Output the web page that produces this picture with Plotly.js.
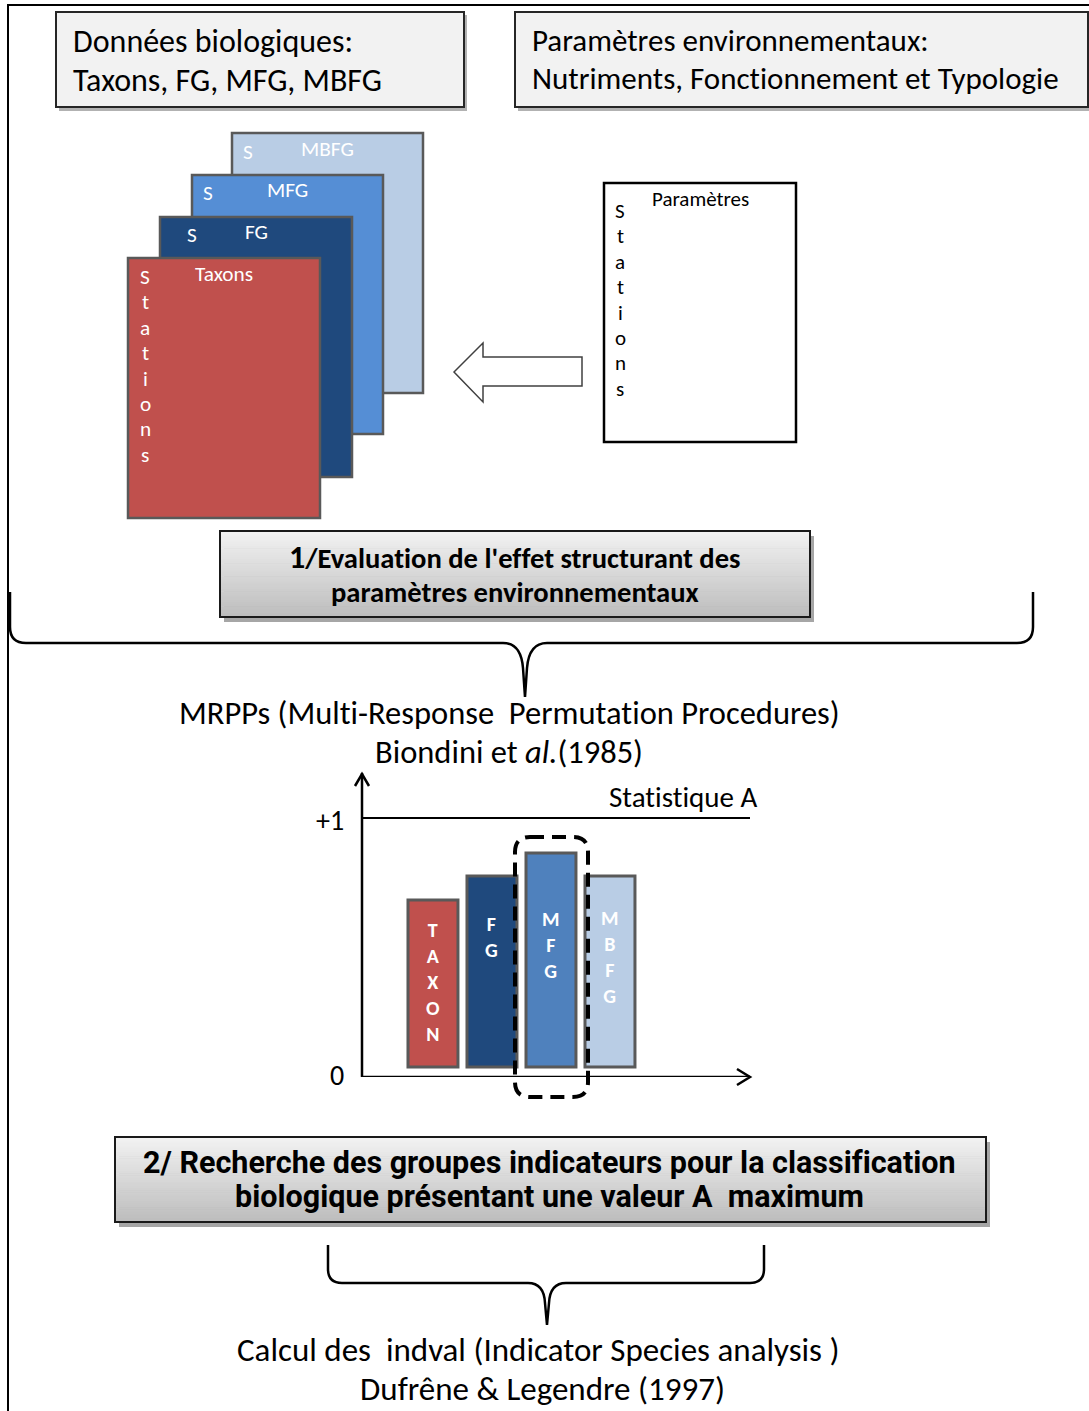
<!DOCTYPE html>
<html>
<head>
<meta charset="utf-8">
<script src="https://cdn.plot.ly/plotly-3.0.1.min.js"></script>
<style>html,body{margin:0;padding:0;background:#fff;}#chart{width:1089px;height:1411px;}
svg text{font-variant-ligatures:none !important;font-feature-settings:"liga" 0,"clig" 0 !important;}</style>
</head>
<body>
<div id="chart"></div>
<script>
// ---------- DATA ----------
const categories = ['TAXON', 'FG', 'MFG', 'MBFG'];
const statA = [0.683, 0.776, 0.865, 0.776];     // Statistique A (top of each bar)
const barBase = 0.039;                          // bars float slightly above 0
const barLabels = ['T<br>A<br>X<br>O<br>N', 'F<br>G', 'M<br>F<br>G', 'M<br>B<br>F<br>G'];
const cardNames = ['MBFG', 'MFG', 'FG', 'Taxons'];
const stationLetters = ['S', 't', 'a', 't', 'i', 'o', 'n', 's'];

// ---------- STYLES / LAYOUT HELPERS ----------
const barColors = ['#c0504d', '#1f497d', '#4f81bd', '#b9cde5'];
const cardColors = ['#b9cde5', '#558ed5', '#1f497d', '#c0504d'];
const labelYpix = [982, 937, 945, 957];
const FONT = 'Carlito, "Open Sans", Lato, sans-serif';
const NARROW = '"Liberation Sans Narrow", Roboto, "Liberation Sans", Arial, sans-serif';

const shapes = [];
const ann = [];
function rect(x0, y0, x1, y1, fill, lc, lw, extra) {
  shapes.push(Object.assign({type: 'rect', xref: 'x', yref: 'y', x0, y0, x1, y1,
    fillcolor: fill, line: {color: lc, width: lw}}, extra || {}));
}
function path(p, lc, lw, fill, extra) {
  shapes.push(Object.assign({type: 'path', xref: 'x', yref: 'y', path: p,
    fillcolor: fill || 'rgba(0,0,0,0)', line: {color: lc, width: lw}}, extra || {}));
}
function txt(x, y, text, size, color, opts) {
  ann.push(Object.assign({xref: 'x', yref: 'y', x, y, text, showarrow: false,
    font: {family: FONT, size, color: color || '#000'}, xanchor: 'center', yanchor: 'middle'}, opts || {}));
}
function hex(c) { return [1, 3, 5].map(i => parseInt(c.substr(i, 2), 16)); }
function gradBox(x0, y0, x1, y1, cTop, cBot) {
  rect(x0 + 4, y0 + 5, x1 + 4, y1 + 5, 'rgba(0,0,0,0.35)', 'rgba(0,0,0,0)', 0);
  const a = hex(cTop), b = hex(cBot), n = 40, h = (y1 - y0) / n;
  for (let i = 0; i < n; i++) {
    const t = i / (n - 1);
    const c = 'rgb(' + a.map((v, k) => Math.round(v + (b[k] - v) * t)).join(',') + ')';
    rect(x0, y0 + i * h, x1, y0 + (i + 1) * h + 0.6, c, 'rgba(0,0,0,0)', 0);
  }
  rect(x0, y0, x1, y1, 'rgba(0,0,0,0)', '#1a1a1a', 2);
}

// page border
path('M8,1411 L8,5 L1089,5', '#000', 2);

// top boxes
rect(59, 15, 467, 111, 'rgba(0,0,0,0.3)', 'rgba(0,0,0,0)', 0);
rect(56, 12, 464, 107, '#f2f2f2', '#262626', 2);
txt(71, 41, 'Données biologiques:', 32, '#000', {xanchor: 'left'});
txt(71, 80, 'Taxons, FG, MFG, MBFG', 32, '#000', {xanchor: 'left'});
rect(518, 15, 1091, 111, 'rgba(0,0,0,0.3)', 'rgba(0,0,0,0)', 0);
rect(515, 12, 1088, 107, '#f2f2f2', '#262626', 2);
txt(530, 40, 'Paramètres environnementaux:', 31, '#000', {xanchor: 'left'});
txt(530, 78, 'Nutriments, Fonctionnement et Typologie', 31, '#000', {xanchor: 'left'});

// stacked cards
const cardBoxes = [[232, 133, 423, 393], [192, 175, 383, 434], [160, 217, 352, 477], [128, 258, 320, 518]];
const cardS = [[248, 152], [208, 193], [192, 235]];
const cardTitle = [[327, 149], [287, 190], [256, 232], [224, 274]];
cardBoxes.forEach((b, i) => {
  rect(b[0], b[1], b[2], b[3], cardColors[i], '#595959', 2.5);
});
cardNames.forEach((nm, i) => {
  txt(cardTitle[i][0], cardTitle[i][1], nm, 21.3, '#fff');
  if (i < 3) txt(cardS[i][0], cardS[i][1], 'S', 21.3, '#fff');
});
stationLetters.forEach((l, i) => txt(145, 277 + 25.4 * i, l, 21.3, '#fff'));

// arrow
path('M454,372 L483,343 L483,357 L582,357 L582,386 L483,386 L483,402 Z', '#404040', 1.5, '#fff');

// parameters box
rect(604, 183, 796, 442, '#fff', '#000', 2.5);
txt(700, 199, 'Paramètres', 21, '#000');
stationLetters.forEach((l, i) => txt(620, 211 + 25.4 * i, l, 21, '#000'));

// step 1 box
gradBox(220, 531, 810, 617, '#f2f2f2', '#bdbdbd');
txt(515, 557, '<b><span style="font-size:32px">1</span>/Evaluation de l\'effet structurant des</b>', 28.6, '#000');
txt(515, 592, '<b>paramètres environnementaux</b>', 28.6, '#000');

// brace 1
path('M10,592 L10,627 Q10,643 26,643 L503,643 Q521,643 523,668 L525,697 M525,697 L527,668 Q529,643 547,643 L1017,643 Q1033,643 1033,627 L1033,592', '#000', 2.5);

txt(509, 713, 'MRPPs (Multi-Response&nbsp; Permutation Procedures)', 32.5, '#000');
txt(509, 752, 'Biondini et <i>al.</i>(1985)', 32.5, '#000');

// mini chart axes
shapes.push({type: 'line', xref: 'x2 domain', yref: 'y2 domain', x0: 0, x1: 0, y0: 0, y1: 1, line: {color: '#000', width: 2.5}});
shapes.push({type: 'line', xref: 'x2 domain', yref: 'y2', x0: 0, x1: 1, y0: 0, y1: 0, line: {color: '#000', width: 2.5}});
shapes.push({type: 'line', xref: 'x2 domain', yref: 'y2', x0: 0, x1: 1, y0: 1, y1: 1, line: {color: '#000', width: 2}});
path('M355,786 L362,774 L369,786', '#000', 2.5);
path('M737,1069 L750,1077 L737,1085', '#000', 2.5);
txt(760, 797, 'Statistique A', 29, '#000', {xanchor: 'right'});
txt(346, 820, '+1', 28, '#000', {xanchor: 'right'});
txt(337, 1075, '0', 28, '#000');

// bar labels
const ypix2val = p => (1077 - p) / 259;
categories.forEach((c, i) => {
  ann.push({xref: 'x2', yref: 'y2', x: c, y: ypix2val(labelYpix[i]), text: '<b>' + barLabels[i] + '</b>',
    showarrow: false, font: {family: FONT, size: 20, color: '#fff'}, xanchor: 'center', yanchor: 'middle'});
});

// dashed selection box
path('M530,837 L573,837 Q588,837 588,852 L588,1082 Q588,1097 573,1097 L530,1097 Q515,1097 515,1082 L515,852 Q515,837 530,837 Z',
  '#000', 4, null, {line: {color: '#000', width: 4, dash: '14px,8px'}});

// step 2 box
gradBox(115, 1137, 986, 1222, '#f2f2f2', '#bdbdbd');
txt(549, 1162, '<b>2/ Recherche des groupes indicateurs pour la classification</b>', 30.5, '#000', {font: {family: NARROW, size: 30.5, color: '#000'}});
txt(549, 1196, '<b>biologique présentant une valeur A&nbsp; maximum</b>', 30.5, '#000', {font: {family: NARROW, size: 30.5, color: '#000'}});

// brace 2
path('M328,1245 L328,1269 Q328,1283 342,1283 L528,1283 Q544,1283 545,1303 L547,1325 M547,1325 L549,1303 Q550,1283 566,1283 L750,1283 Q764,1283 764,1269 L764,1245', '#000', 2.5);

txt(538, 1350, 'Calcul des&nbsp; indval (Indicator Species analysis )', 33, '#000');
txt(542, 1389, 'Dufrêne &amp; Legendre (1997)', 33, '#000');

// ---------- TRACES ----------
const bars = {
  type: 'bar', x: categories, y: statA.map(v => v - barBase), base: barBase,
  xaxis: 'x2', yaxis: 'y2', width: 0.847,
  marker: {color: barColors, line: {color: '#595959', width: 3}},
  hoverinfo: 'skip', showlegend: false
};

const layout = {
  width: 1089, height: 1411, margin: {l: 0, r: 0, t: 0, b: 0},
  paper_bgcolor: '#fff', plot_bgcolor: 'rgba(0,0,0,0)', showlegend: false,
  xaxis: {range: [0, 1089], visible: false, fixedrange: true},
  yaxis: {range: [1411, 0], visible: false, fixedrange: true},
  xaxis2: {type: 'category', domain: [362 / 1089, 750 / 1089], range: [-1.203, 5.373], anchor: 'y2', visible: false},
  yaxis2: {domain: [1 - 1077 / 1411, 1 - 773 / 1411], range: [0, 304 / 259], anchor: 'x2', visible: false},
  shapes: shapes, annotations: ann
};
Plotly.newPlot('chart', [bars], layout, {staticPlot: true});
</script>
</body>
</html>
